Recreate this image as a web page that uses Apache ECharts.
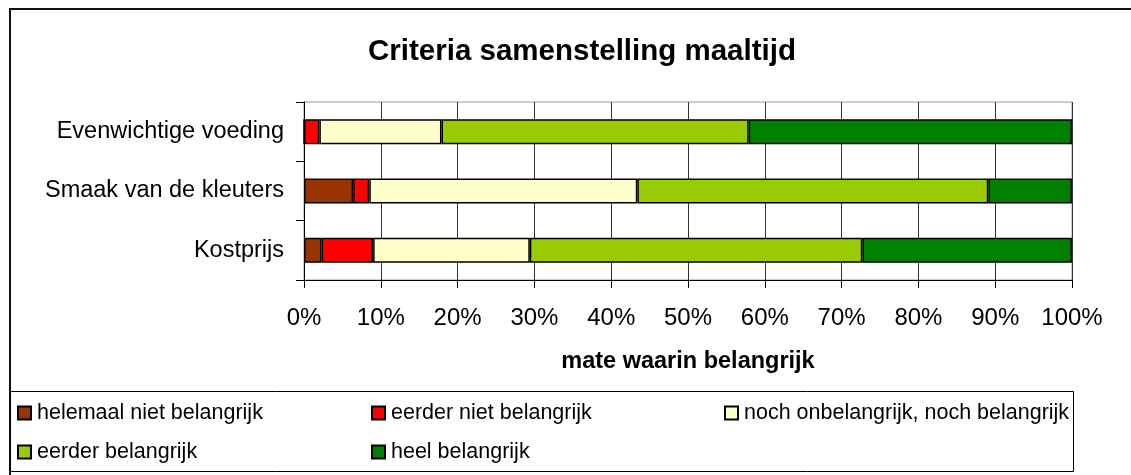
<!DOCTYPE html>
<html>
<head>
<meta charset="utf-8">
<script src="https://cdn.jsdelivr.net/npm/echarts@6/dist/echarts.min.js"></script>
<style>html,body{margin:0;padding:0;background:#fff}#c{width:1131px;height:475px}</style>
</head>
<body>
<div id="c"></div>
<script>
const categories = ['Kostprijs', 'Smaak van de kleuters', 'Evenwichtige voeding'];
const seriesNames = ['helemaal niet belangrijk', 'eerder niet belangrijk', 'noch onbelangrijk, noch belangrijk', 'eerder belangrijk', 'heel belangrijk'];
const helemaalNiet = [2.3, 6.4, 0];
const eerderNiet = [6.7, 2.1, 2.0];
const noch = [20.4, 34.9, 15.9];
const eerderBelangrijk = [43.3, 45.7, 40.0];
const heelBelangrijk = [27.3, 10.9, 42.1];
const colors = ['#993300', '#FF0000', '#FFFFCC', '#99CC00', '#008000'];
const values = [helemaalNiet, eerderNiet, noch, eerderBelangrijk, heelBelangrijk];

const FONT = "'Liberation Sans', Arial, sans-serif";
const chart = echarts.init(document.getElementById('c'));

const legendPos = [[17, 402], [371, 402], [724, 402], [17, 441], [371, 441]];
const legends = seriesNames.map((n, i) => ({
  data: [n], left: legendPos[i][0], top: legendPos[i][1], padding: 0,
  icon: 'rect', itemWidth: 13, itemHeight: 13, itemGap: 6,
  textStyle: { fontFamily: FONT, fontSize: 21.5, color: '#000', padding: [0, 0, 0, 1] },
  selectedMode: false
}));

chart.setOption({
  animation: false,
  color: colors,
  title: {
    text: 'Criteria samenstelling maaltijd', left: 577, top: 32, textAlign: 'center',
    textStyle: { fontFamily: FONT, fontSize: 29.5, fontWeight: 'bold', color: '#000' }
  },
  legend: legends,
  grid: { left: 304, right: 59, top: 102, bottom: 195, show: true, borderColor: '#999', borderWidth: 1 },
  xAxis: {
    type: 'value', min: 0, max: 100, interval: 10,
    name: 'mate waarin belangrijk', nameLocation: 'middle', nameGap: 70,
    nameTextStyle: { fontFamily: FONT, fontSize: 23.5, fontWeight: 'bold', color: '#000' },
    axisLine: { show: true, lineStyle: { color: '#000', width: 1 } },
    axisTick: { show: true, length: 8, lineStyle: { color: '#000' } },
    axisLabel: { formatter: '{value}%', fontFamily: FONT, fontSize: 24, color: '#000', margin: 26 },
    splitLine: { show: true, lineStyle: { color: '#333', width: 1 } }
  },
  yAxis: {
    type: 'category', data: categories,
    axisLine: { show: true, lineStyle: { color: '#000', width: 1 } },
    axisTick: { show: true, length: 8, lineStyle: { color: '#000' } },
    axisLabel: { fontFamily: FONT, fontSize: 23.5, color: '#000', margin: 20 }
  },
  series: seriesNames.map((n, i) => ({
    name: n, type: 'bar', stack: 'total', data: values[i], barWidth: 25,
    itemStyle: { color: colors[i], borderColor: '#000', borderWidth: 1.5 }
  })),
  graphic: [
    { type: 'rect', silent: true, z: 100, shape: { x: 10, y: 9, width: 1300, height: 700 },
      style: { fill: 'none', stroke: '#111', lineWidth: 2 } },
    { type: 'rect', silent: true, z: 100, shape: { x: 10.5, y: 391.5, width: 1063, height: 80 },
      style: { fill: 'none', stroke: '#000', lineWidth: 1 } }
  ]
});
</script>
</body>
</html>
